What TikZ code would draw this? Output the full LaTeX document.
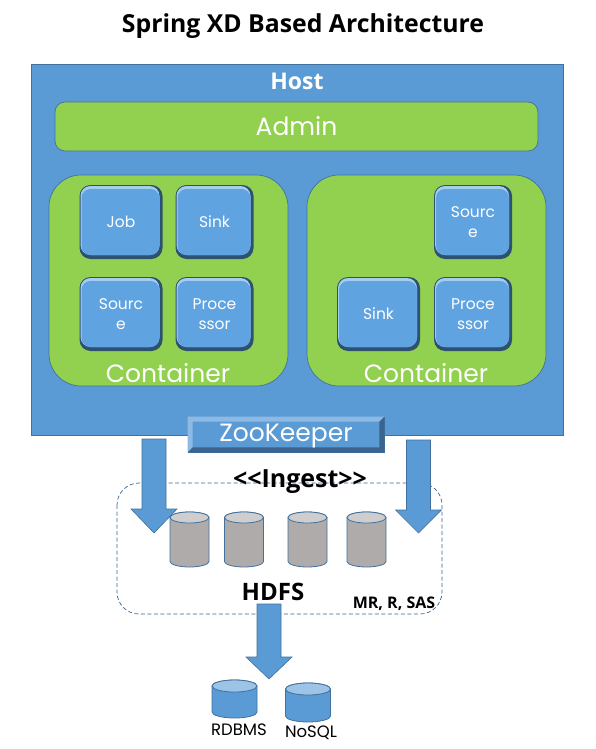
\documentclass[tikz,border=0pt]{standalone}
\usepackage{fontspec}
\setmainfont{Poppins}
\newfontfamily\boldface{Open Sans}[BoldFont={Open Sans Bold}]
\definecolor{hostblue}{HTML}{5B9BD5}
\definecolor{edgeblue}{HTML}{41719C}
\definecolor{tileblue}{HTML}{5FA3E0}
\definecolor{tiledark}{HTML}{2F5170}
\definecolor{tilelight}{HTML}{A5CDEE}
\definecolor{zoodark}{HTML}{3A648E}
\definecolor{zoolight}{HTML}{8DB9E2}
\definecolor{leaf}{HTML}{92D050}
\definecolor{drumgrey}{HTML}{AFABAB}
\definecolor{drumtop}{HTML}{CFCDCD}
\definecolor{drumsky}{HTML}{9DC3E6}
\tikzset{
    hostbox/.style={draw=edgeblue, fill=hostblue, line width=0.8pt, minimum width=532pt, minimum height=371pt, inner sep=0pt},
    leafbox/.style={draw=edgeblue, fill=leaf, line width=0.7pt, inner sep=0pt},
    tile/.style={fill=tiledark, rounded corners=11pt, inner sep=0pt, minimum height=74pt, text=white, font=\fontsize{15.5}{20.5}\selectfont, align=center,
        path picture={
            \fill[tilelight, rounded corners=10pt] ([shift={(1pt,-1pt)}]path picture bounding box.north west) rectangle ([shift={(-3pt,4pt)}]path picture bounding box.south east);
            \fill[tileblue, rounded corners=9pt] ([shift={(2pt,-4pt)}]path picture bounding box.north west) rectangle ([shift={(-3pt,4pt)}]path picture bounding box.south east);
        }},
    whitelabel/.style={text=white, inner sep=0pt},
    blacklabel/.style={text=black, inner sep=0pt, font=\boldface\bfseries},
    flowarrow/.style={draw=edgeblue, fill=hostblue, line width=0.6pt, line join=miter},
    drumline/.style={draw=edgeblue, line width=0.8pt},
}
% centre x, top y, bottom y, half width, end height, body colour, end colour
\newcommand{\drumshape}[7]{
    \draw[drumline, fill=#6] (#1-#4,#2+#5) -- (#1-#4,#3-#5) arc[start angle=180, end angle=360, x radius=#4 pt, y radius=#5 pt] -- (#1+#4,#2+#5) arc[start angle=0, end angle=180, x radius=#4 pt, y radius=#5 pt] -- cycle;
    \draw[drumline, fill=#7] (#1,#2+#5) ellipse [x radius=#4 pt, y radius=#5 pt];
}
% centre x, top y, y where the head starts, tip y
\newcommand{\flowshape}[4]{
    \draw[flowarrow] (#1-12,#2) -- (#1+12,#2) -- (#1+12,#3) -- (#1+23,#3) -- (#1,#4) -- (#1-23,#3) -- (#1-12,#3) -- cycle;
}
\begin{document}
\begin{tikzpicture}[x=1pt, y=-1pt]
    \useasboundingbox (0,0) rectangle (595,749);
    \fill[white] (0,0) rectangle (595,749);

    % Title
    \node (title) [blacklabel, font=\boldface\bfseries\fontsize{24.8}{28}\selectfont] at (303,26) {Spring XD Based Architecture};

    % Host
    \node (host) [hostbox] at (297,249.5) {};
    \node (hostlabel) [whitelabel, font=\boldface\bfseries\fontsize{23}{27}\selectfont] at (297,81) {Host};
    \node (admin) [leafbox, rounded corners=10pt, minimum width=483pt, minimum height=49pt, text=white, font=\fontsize{25}{30}\selectfont] at (296.5,126.5) {Admin};

    % Containers
    \node (leftbox) [leafbox, rounded corners=32pt, minimum width=239pt, minimum height=211pt] at (168.5,280.5) {};
    \node (rightbox) [leafbox, rounded corners=32pt, minimum width=239pt, minimum height=211pt] at (426.5,280.5) {};
    \node (leftlabel) [whitelabel, font=\fontsize{25}{30}\selectfont] at (168,373) {Container};
    \node (rightlabel) [whitelabel, font=\fontsize{25}{30}\selectfont] at (426,373) {Container};

    % Tiles
    \node (job) [tile, minimum width=83pt] at (121,222) {Job};
    \node (leftsink) [tile, minimum width=78pt] at (214.5,222) {Sink};
    \node (leftsource) [tile, minimum width=83pt] at (121,314) {Sourc\\e};
    \node (leftproc) [tile, minimum width=78pt] at (214.5,314) {Proce\\ssor};
    \node (rightsource) [tile, minimum width=78pt] at (473,222) {Sourc\\e};
    \node (rightsink) [tile, minimum width=83pt] at (378.5,314) {Sink};
    \node (rightproc) [tile, minimum width=78pt] at (473,314) {Proce\\ssor};

    % HDFS region
    \draw[zoodark, dash pattern=on 4pt off 2.5pt, line width=0.7pt, rounded corners=22pt] (117,483) rectangle (442,614);

    % Flow arrows
    \flowshape{154}{439}{509}{533}
    \flowshape{418.5}{440}{510}{533}
    \flowshape{269}{604}{657}{679}

    % ZooKeeper
    \node (zoo) [draw=edgeblue, fill=hostblue, line width=0.8pt, minimum width=196pt, minimum height=35pt, inner sep=0pt] at (286,434.5) {};
    \fill[zoolight] (zoo.north west) -- (zoo.north east) -- ++(-5,5) -- ([shift={(5,5)}]zoo.north west) -- ([shift={(5,-5)}]zoo.south west) -- (zoo.south west) -- cycle;
    \fill[zoodark] (zoo.south east) -- (zoo.north east) -- ++(-5,5) -- ([shift={(-5,-5)}]zoo.south east) -- ([shift={(5,-5)}]zoo.south west) -- (zoo.south west) -- cycle;
    \node (zoolabel) [whitelabel, font=\fontsize{25}{30}\selectfont] at (286,436) {ZooKeeper};

    % Grey drums
    \foreach \xpos in {189.5, 244, 307.5, 366.5} {
        \drumshape{\xpos}{512}{567}{19.5}{5.5}{drumgrey}{drumtop}
    }

    % Labels of the region
    \node (ingest) [blacklabel, font=\boldface\bfseries\fontsize{25}{29}\selectfont] at (300,482) {<{}<Ingest>{}>};
    \node (hdfs) [blacklabel, font=\boldface\bfseries\fontsize{24}{27}\selectfont] at (273,592) {HDFS};
    \node (tools) [blacklabel, font=\boldface\bfseries\fontsize{16}{19}\selectfont] at (394,604) {MR, R, SAS};

    % Stores
    \drumshape{234.5}{680}{718}{22.5}{6}{hostblue}{drumsky}
    \drumshape{308}{683}{722}{22.5}{6}{hostblue}{drumsky}
    \node (rdbmslabel) [inner sep=0pt, font=\fontsize{16.5}{20}\selectfont] at (239,730) {RDBMS};
    \node (nosqllabel) [inner sep=0pt, font=\fontsize{16.5}{20}\selectfont] at (311,733) {NoSQL};
\end{tikzpicture}
\end{document}
